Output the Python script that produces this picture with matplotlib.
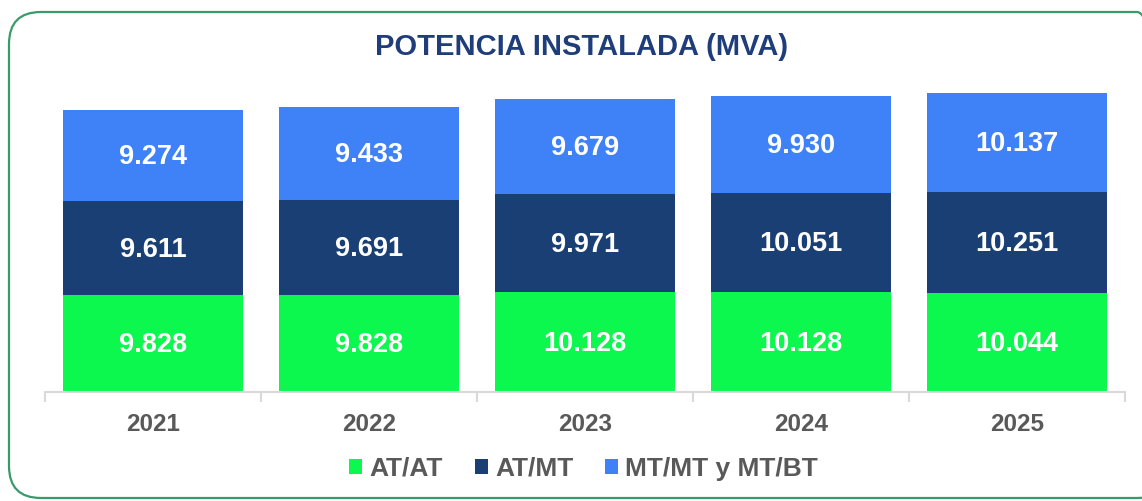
import matplotlib.pyplot as plt
import numpy as np
from matplotlib.patches import FancyBboxPatch, Patch

plt.rcParams['font.family'] = ['Liberation Sans', 'DejaVu Sans']

years = ['2021', '2022', '2023', '2024', '2025']
at_at = [9828, 9828, 10128, 10128, 10044]
at_mt = [9611, 9691, 9971, 10051, 10251]
mt_bt = [9274, 9433, 9679, 9930, 10137]
series_names = ['AT/AT', 'AT/MT', 'MT/MT y MT/BT']
colors = ['#0cf84e', '#1a3f75', '#3f82f7']


def fmt(v):
    return f'{v:,}'.replace(',', '.')


fig = plt.figure(figsize=(11.42, 5.01), dpi=100)
ax = fig.add_axes([45 / 1142, 109 / 501, 1080 / 1142, 302 / 501])

# rounded frame around the chart (right side runs off the image)
frame = FancyBboxPatch((9 / 1142, 3 / 501), 1160 / 1142, 486 / 501,
                       boxstyle='round,pad=0,rounding_size=0.028',
                       transform=fig.transFigure, fill=False,
                       edgecolor='#3a9a6a', linewidth=1.6,
                       mutation_aspect=1142 / 501, clip_on=False)
fig.patches.append(frame)

x = np.arange(len(years))
width = 0.833
bottom = np.zeros(len(years))
for vals, col in zip([at_at, at_mt, mt_bt], colors):
    vals = np.array(vals)
    ax.bar(x, vals, width, bottom=bottom, color=col, linewidth=0)
    for xi, b, v in zip(x, bottom, vals):
        ax.text(xi, b + v / 2 - 150, fmt(v), ha='center', va='center',
                color='white', fontsize=19.5, fontweight='bold')
    bottom += vals

ax.set_xlim(-0.5, len(years) - 0.5)
ax.set_ylim(0, 30700)
ax.set_yticks([])
for s in ['top', 'right', 'left']:
    ax.spines[s].set_visible(False)
ax.spines['bottom'].set_color('#d9d9d9')
ax.spines['bottom'].set_linewidth(1.5)

ax.set_xticks(x)
ax.set_xticklabels(years, fontsize=17.5, fontweight='bold', color='#595959')
ax.tick_params(axis='x', which='major', length=0, pad=15)
ax.set_xticks(np.arange(-0.5, len(years)), minor=True)
ax.tick_params(axis='x', which='minor', length=7, width=1.5, color='#d9d9d9')

fig.text(0.509, 1 - 47 / 501, 'POTENCIA INSTALADA (MVA)', ha='center', va='center',
         fontsize=21, fontweight='bold', color='#1f3d7a')

handles = [Patch(facecolor=c, edgecolor='none') for c in colors]
fig.legend(handles, series_names, loc='center', bbox_to_anchor=(0.511, 1 - 469 / 501),
           ncol=3, frameon=False, handlelength=0.5, handleheight=0.5,
           handletextpad=0.27, columnspacing=1.2,
           prop={'size': 19, 'weight': 'bold'}, labelcolor='#595959')

fig.savefig('out.png', dpi=100)
